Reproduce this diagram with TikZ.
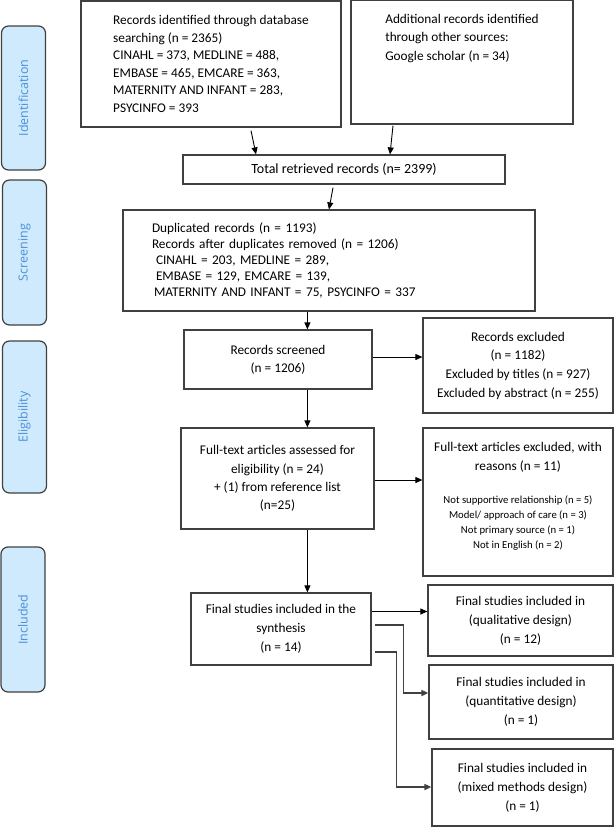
\documentclass[tikz,border=0pt]{standalone}
\usepackage{fontspec}
\setmainfont{Carlito}
\newfontfamily\sidefont{Open Sans}
\usetikzlibrary{arrows.meta,calc}
\definecolor{boxgray}{RGB}{64,64,64}
\definecolor{sidefill}{RGB}{207,234,252}
\definecolor{sidetext}{RGB}{74,144,217}
\tikzset{
  box/.style={draw=boxgray, line width=1.2pt, inner sep=0pt, align=center,
    font=\fontsize{13.3}{18.3}\selectfont},
  txt/.style={inner sep=0pt, align=center, font=\fontsize{13.3}{18.3}\selectfont},
  side/.style={draw=boxgray, fill=sidefill, line width=1.2pt, rounded corners=7pt,
    inner sep=0pt, minimum height=44pt, rotate=90, text=sidetext,
    font=\sidefont\fontsize{12.5}{14}\selectfont},
  arr/.style={draw=black, line width=0.9pt, -{Triangle[length=7pt,width=6pt]}},
  arrb/.style={draw=boxgray, line width=1.6pt, -{Triangle[length=7pt,width=6pt]}},
}
\begin{document}
\begin{tikzpicture}[x=1pt,y=-1pt]
\useasboundingbox (0,0) rectangle (614,827);
% side labels
\node[side, minimum width=144pt] (L1) at (23.5,98) {Identification};
\node[side, minimum width=145pt] (L2) at (24.5,252.5) {Screening};
\node[side, minimum width=152pt] (L3) at (24.5,417) {Eligibility};
\node[side, minimum width=145pt] (L4) at (23,619.5) {Included};
% boxes
\node[box, align=left, minimum width=260pt, minimum height=126pt,
  font=\fontsize{13.3}{17.5}\selectfont] (A) at (211,64)
  {Records identified through database\\searching (n = 2365)\\CINAHL = 373, MEDLINE = 488,\\EMBASE = 465, EMCARE = 363,\\MATERNITY AND INFANT = 283,\\PSYCINFO = 393};
\node[box, minimum width=222pt, minimum height=124pt] (B) at (462,62) {};
\node[txt, align=left, anchor=north] (Bt) at (462,14)
  {Additional records identified\\through other sources:\\Google scholar (n = 34)};
\node[box, minimum width=322pt, minimum height=29pt, font=\fontsize{14}{17}\selectfont] (T) at (344,169.5)
  {Total retrieved records (n= 2399)};
\node[box, align=left, minimum width=412pt, minimum height=101pt, inner xsep=29pt, text width=354pt,
  font=\fontsize{13.3}{16}\selectfont] (S) at (329,260.5)
  {Duplicated records (n = 1193)\\Records after duplicates removed (n = 1206)\\\hspace*{4pt}CINAHL = 203, MEDLINE = 289,\\\hspace*{4pt}EMBASE = 129, EMCARE = 139,\\\hspace*{2pt}MATERNITY AND INFANT = 75, PSYCINFO = 337};
\node[box, minimum width=188pt, minimum height=59pt, font=\fontsize{13.3}{18}\selectfont] (Sc) at (278,359.5)
  {Records screened\\(n = 1206)};
\node[box, minimum width=190pt, minimum height=95pt, font=\fontsize{13.3}{18.7}\selectfont] (Ex) at (518,365.5)
  {Records excluded\\(n = 1182)\\Excluded by titles (n = 927)\\Excluded by abstract (n = 255)};
\node[box, minimum width=193pt, minimum height=101pt] (F) at (277.5,478.5)
  {Full-text articles assessed for\\eligibility (n = 24)\\+ (1) from reference list\\(n=25)};
\node[box, minimum width=190pt, minimum height=148pt] (EF) at (518,502) {};
\node[txt, font=\fontsize{13.3}{19}\selectfont] (EFt) at (518,457.5)
  {Full-text articles excluded, with\\reasons (n = 11)};
\node[txt, font=\fontsize{10.7}{15.3}\selectfont] (EFl) at (518,523)
  {Not supportive relationship (n = 5)\\Model/ approach of care (n = 3)\\Not primary source (n = 1)\\Not in English (n = 2)};
\node[box, minimum width=180pt, minimum height=72pt, font=\fontsize{13.3}{19}\selectfont] (Fi) at (281,629)
  {Final studies included in the\\synthesis\\(n = 14)};
\node[box, minimum width=185pt, minimum height=71pt, font=\fontsize{13.3}{19}\selectfont] (Q1) at (520.5,620.5)
  {Final studies included in\\(qualitative design)\\(n = 12)};
\node[box, minimum width=184pt, minimum height=74pt, font=\fontsize{13.3}{19}\selectfont] (Q2) at (521,702)
  {Final studies included in\\(quantitative design)\\(n = 1)};
\node[box, minimum width=181pt, minimum height=77pt, font=\fontsize{13.3}{19}\selectfont] (Q3) at (522.5,787.5)
  {Final studies included in\\(mixed methods design)\\(n = 1)};
% connectors
\draw[arr] ($(A.south)+(40,3)$) -- ($(T.north)+(-88,0)$);
\draw[arr] ($(B.south)+(-69,1)$) -- ($(T.north)+(46,0)$);
\draw[arr] ($(T.south)+(-11,3)$) -- ($(S.north)+(0,0)$);
\draw[arr] ($(S.south)+(-21.6,0)$) -- ($(Sc.north)+(29.4,0)$);
\draw[arr] ($(Sc.east)+(0,-2.5)$) -- ($(Ex.west)+(0,-8.5)$);
\draw[arr] ($(Sc.south)+(29.4,0)$) -- ($(F.north)+(29.9,0)$);
\draw[arr] ($(F.east)+(0,1.5)$) -- ($(EF.west)+(0,-22)$);
\draw[arr] ($(F.south)+(29.9,0)$) -- ($(Fi.north)+(26.4,0)$);
\draw[arr] ($(Fi.east)+(0,-17.5)$) -- ($(Q1.west)+(0,-9)$);
\draw[arrb] ($(Fi.east)+(3,-4)$) -- ($(Fi.east)+(32,-4)$) |- ($(Q2.west)+(0,-9)$);
\draw[arrb] ($(Fi.east)+(3,23)$) -- ($(Fi.east)+(25,23)$) |- ($(Q3.west)+(0,-0.5)$);
\end{tikzpicture}
\end{document}
